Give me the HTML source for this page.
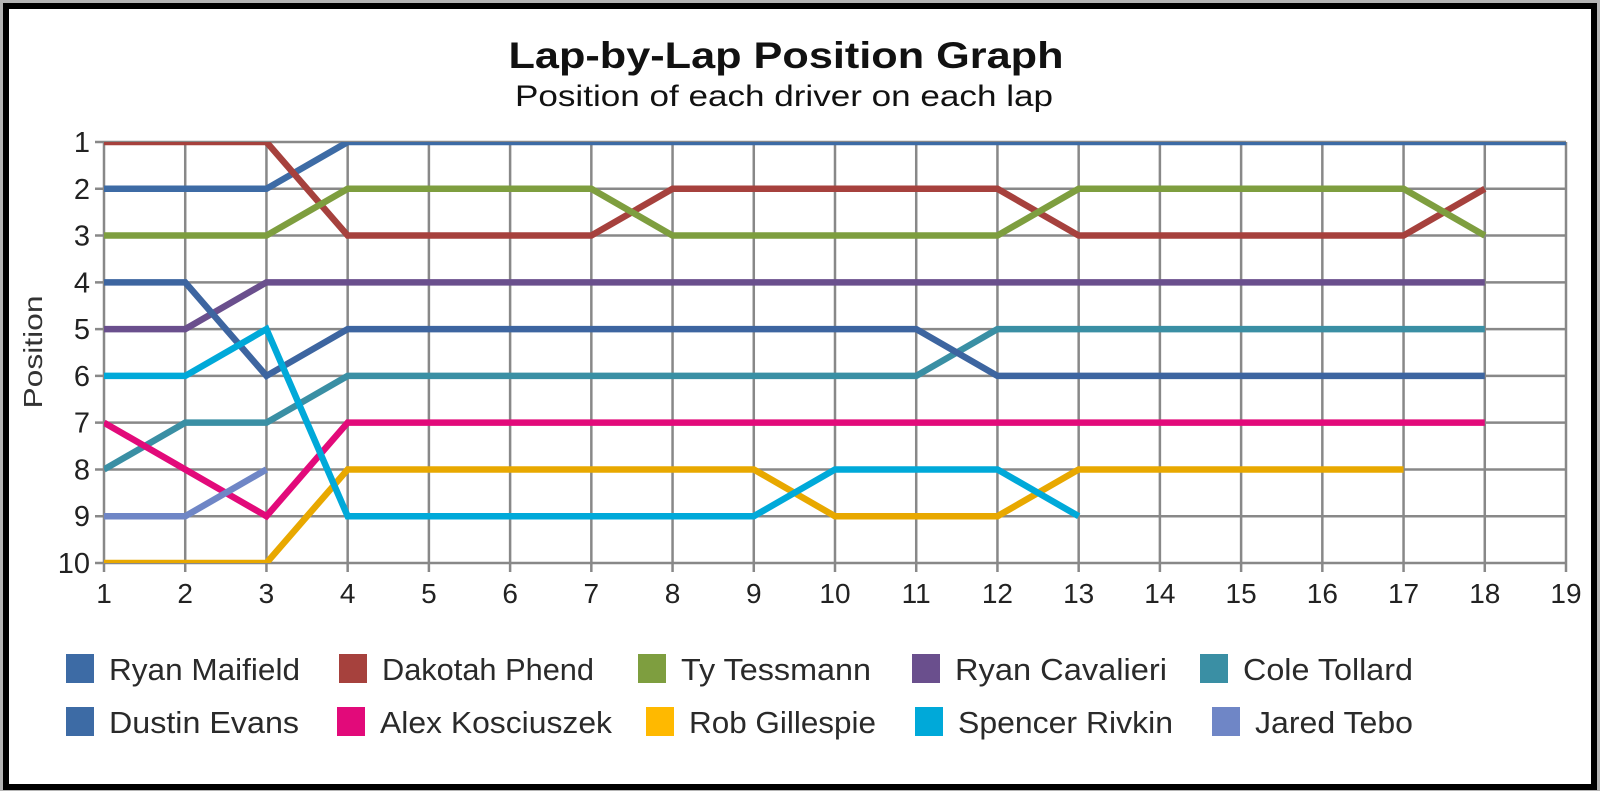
<!DOCTYPE html>
<html><head><meta charset="utf-8"><style>
html,body{margin:0;padding:0;background:#b4b4b4;width:1600px;height:791px;overflow:hidden}
svg{display:block;font-family:"Liberation Sans",sans-serif}
</style></head><body>
<svg id="chart" width="1600" height="791" viewBox="0 0 1600 791" xmlns="http://www.w3.org/2000/svg">
<rect x="6" y="6" width="1588" height="781" fill="#fff" stroke="#000" stroke-width="6"/>
<text x="786" y="68" text-anchor="middle" font-size="37" font-weight="bold" fill="#111" textLength="555" lengthAdjust="spacingAndGlyphs">Lap-by-Lap Position Graph</text>
<text x="784" y="106" text-anchor="middle" font-size="30" fill="#111" textLength="538" lengthAdjust="spacingAndGlyphs">Position of each driver on each lap</text>
<text x="0" y="0" transform="translate(42,352) rotate(-90)" text-anchor="middle" font-size="26" fill="#333" textLength="113" lengthAdjust="spacingAndGlyphs">Position</text>
<defs><clipPath id="plotclip"><rect x="104" y="142" width="1462" height="421"/></clipPath></defs>
<g id="grid"></g>
<g id="series" clip-path="url(#plotclip)"></g>
<g id="axes"></g>
<g id="legend"></g>
</svg>
<script>
const laps = [1,2,3,4,5,6,7,8,9,10,11,12,13,14,15,16,17,18,19];
const positionTicks = [1,2,3,4,5,6,7,8,9,10];
const driverNames = ["Ryan Maifield","Dakotah Phend","Ty Tessmann","Ryan Cavalieri","Cole Tollard","Dustin Evans","Alex Kosciuszek","Rob Gillespie","Spencer Rivkin","Jared Tebo"];
const ryanMaifield = [2,2,2,1,1,1,1,1,1,1,1,1,1,1,1,1,1,1,1];
const dakotahPhend = [1,1,1,3,3,3,3,2,2,2,2,2,3,3,3,3,3,2];
const tyTessmann = [3,3,3,2,2,2,2,3,3,3,3,3,2,2,2,2,2,3];
const ryanCavalieri = [5,5,4,4,4,4,4,4,4,4,4,4,4,4,4,4,4,4];
const coleTollard = [8,7,7,6,6,6,6,6,6,6,6,5,5,5,5,5,5,5];
const dustinEvans = [4,4,6,5,5,5,5,5,5,5,5,6,6,6,6,6,6,6];
const alexKosciuszek = [7,8,9,7,7,7,7,7,7,7,7,7,7,7,7,7,7,7];
const robGillespie = [10,10,10,8,8,8,8,8,8,9,9,9,8,8,8,8,8];
const spencerRivkin = [6,6,5,9,9,9,9,9,9,8,8,8,9];
const jaredTebo = [9,9,8];

const seriesData = [ryanMaifield,dakotahPhend,tyTessmann,ryanCavalieri,coleTollard,dustinEvans,alexKosciuszek,robGillespie,spencerRivkin,jaredTebo];
const lineColors = ["#3d6ba5","#a6413d","#7e9e3f","#6a4f8d","#3a8fa4","#3d65a0","#e20a7a","#e8a800","#00a9d9","#6f86c6"];
const legendColors = ["#3d6ba5","#a6413d","#7e9e3f","#6a4f8d","#3a8fa4","#3d6ba5","#e20a7a","#ffb900","#00a9d9","#6f86c6"];

const NS = "http://www.w3.org/2000/svg";
const X0 = 104, X1 = 1566, Y0 = 142, Y1 = 563;
function xScale(lap){ return X0 + (lap - laps[0]) / (laps[laps.length-1] - laps[0]) * (X1 - X0); }
function yScale(p){ return Y0 + (p - positionTicks[0]) / (positionTicks[positionTicks.length-1] - positionTicks[0]) * (Y1 - Y0); }
function mk(tag, attrs){ const e = document.createElementNS(NS, tag); for (const k in attrs) e.setAttribute(k, attrs[k]); return e; }

const grid = document.getElementById('grid');
const axes = document.getElementById('axes');
laps.forEach(l => {
  const x = xScale(l);
  const ln = mk('line', {x1:x, y1:Y0, x2:x, y2:Y1+9, stroke:'#888', 'stroke-width':2.5});
  
  
  grid.appendChild(ln);
  const t = mk('text', {x:x, y:603, 'text-anchor':'middle', 'font-size':28, fill:'#222'});
  t.textContent = l;
  
  
  axes.appendChild(t);
});
positionTicks.forEach(p => {
  const y = yScale(p);
  const ln = mk('line', {x1:X0-9, y1:y, x2:X1, y2:y, stroke:'#888', 'stroke-width':2.5});
  
  
  grid.appendChild(ln);
  const t = mk('text', {x:90, y:y+10, 'text-anchor':'end', 'font-size':29, fill:'#222'});
  t.textContent = p;
  
  
  axes.appendChild(t);
});

const series = document.getElementById('series');
seriesData.forEach((vals, i) => {
  const pts = vals.map((v, j) => xScale(laps[j]) + ',' + yScale(v)).join(' ');
  const pl = mk('polyline', {points:pts, fill:'none', stroke:lineColors[i], 'stroke-width':6.5, 'stroke-linejoin':'miter'});
  
  
  series.appendChild(pl);
});

const legendX = [[66,339,638,912,1200],[66,337,646,915,1212]];
const legendY = [654,707];
const legendW = [[191,212,190,212,170],[190,232,187,215,158]];
const legend = document.getElementById('legend');
driverNames.forEach((name, i) => {
  const r = Math.floor(i / 5), c = i % 5;
  const g = mk('g', {});
  
  
  const sq = mk('rect', {x:legendX[r][c], y:legendY[r], width:28, height:29, fill:legendColors[i]});
  
  
  const t = mk('text', {x:legendX[r][c]+43, y:legendY[r]+26, 'font-size':31, fill:'#2a2a2a', textLength:legendW[r][c], lengthAdjust:'spacingAndGlyphs'});
  t.textContent = name;
  
  
  g.appendChild(sq); g.appendChild(t);
  legend.appendChild(g);
});
</script>
</body></html>
